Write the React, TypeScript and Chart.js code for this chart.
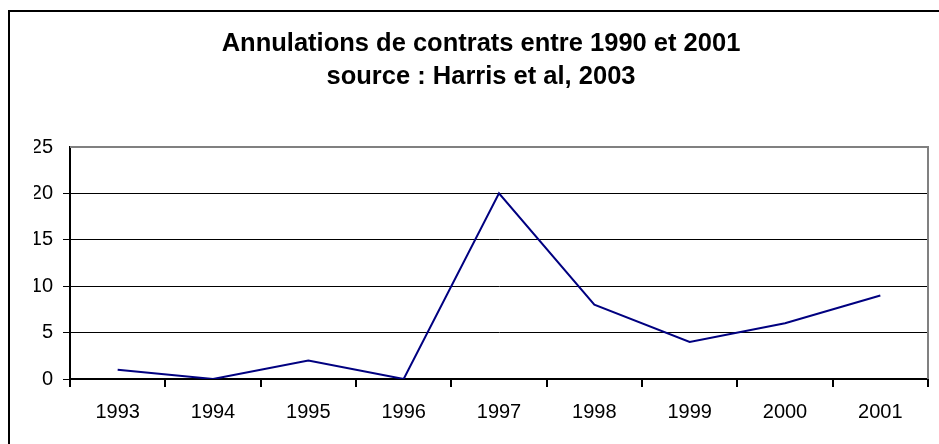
import React, { useEffect, useRef } from "react";
import { Chart, registerables } from "chart.js";

Chart.register(...registerables);

const titleLines = ["Annulations de contrats entre 1990 et 2001", "source : Harris et al, 2003"];
const years = ["1993", "1994", "1995", "1996", "1997", "1998", "1999", "2000", "2001"];
const annulations = [1, 0, 2, 0, 20, 8, 4, 6, 9];
const yMin = 0;
const yMax = 25;
const yStep = 5;

const FONT = "'Liberation Sans', Arial, Helvetica, sans-serif";

const framePlugin = {
  id: "frame",
  beforeDraw(chart: any) {
    const ctx = chart.ctx;
    ctx.save();
    ctx.fillStyle = "#ffffff";
    ctx.fillRect(0, 0, chart.width, chart.height);
    ctx.strokeStyle = "#000000";
    ctx.lineWidth = 2;
    ctx.strokeRect(9, 11, chart.width + 50, chart.height + 50);
    ctx.restore();
  },
  afterDatasetsDraw(chart: any) {
    const { ctx, chartArea } = chart;
    ctx.save();
    ctx.strokeStyle = "#808080";
    ctx.lineWidth = 2;
    ctx.beginPath();
    ctx.moveTo(chartArea.left, chartArea.top);
    ctx.lineTo(chartArea.right, chartArea.top);
    ctx.lineTo(chartArea.right, chartArea.bottom);
    ctx.stroke();
    ctx.restore();
  },
};

export default function App() {
  const ref = useRef<HTMLCanvasElement | null>(null);
  useEffect(() => {
    if (!ref.current) return;
    const chart = new Chart(ref.current, {
      type: "line",
      data: {
        labels: years,
        datasets: [
          {
            data: annulations,
            borderColor: "#000080",
            borderWidth: 2,
            pointRadius: 0,
            tension: 0,
            fill: false,
          },
        ],
      },
      options: {
        responsive: false,
        animation: false,
        layout: { padding: { left: 34, right: 11, top: 0, bottom: 0 } },
        plugins: {
          legend: { display: false },
          tooltip: { enabled: false },
          title: {
            display: true,
            text: titleLines,
            color: "#000000",
            font: { family: FONT, size: 25.5, weight: "bold", lineHeight: "33px" },
            padding: { top: 27.5, bottom: 53.5 },
          },
        },
        scales: {
          x: {
            offset: true,
            grid: {
              offset: true,
              drawOnChartArea: false,
              drawTicks: true,
              tickLength: 8,
              color: "#000000",
              lineWidth: 2,
            },
            border: { color: "#000000", width: 2 },
            ticks: {
              color: "#000000",
              font: { family: FONT, size: 20 },
              padding: 13,
              maxRotation: 0,
              autoSkip: false,
            },
            afterFit(scale: any) {
              scale.height = 65;
            },
          },
          y: {
            min: yMin,
            max: yMax,
            grid: {
              color: (c: any) => (c.tick && c.tick.value === yMax ? "rgba(0,0,0,0)" : "#000000"),
              lineWidth: 1,
              tickLength: 7,
              drawTicks: true,
            },
            border: { color: "#000000", width: 2 },
            ticks: {
              stepSize: yStep,
              color: "#000000",
              font: { family: FONT, size: 20 },
              padding: 10,
            },
            afterFit(scale: any) {
              scale.width = 36;
            },
          },
        },
      },
      plugins: [framePlugin],
    });
    return () => chart.destroy();
  }, []);
  return (
    <div style={{ position: "absolute", left: 0, top: 0, width: 939, height: 444 }}>
      <canvas ref={ref} width={939} height={444} style={{ display: "block" }} />
    </div>
  );
}
